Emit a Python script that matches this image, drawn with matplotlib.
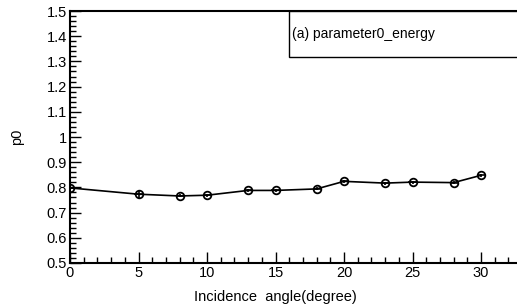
import numpy as np
import matplotlib
matplotlib.use('Agg')
import matplotlib.pyplot as plt
from matplotlib.ticker import MultipleLocator

# Data
angle = [0, 5, 8, 10, 13, 15, 18, 20, 23, 25, 28, 30]
p0 = [0.798, 0.773, 0.766, 0.769, 0.788, 0.788, 0.794, 0.824, 0.817, 0.821, 0.819, 0.848]
p0_err = [0.007, 0.014, 0.006, 0.006, 0.007, 0.006, 0.006, 0.006, 0.006, 0.006, 0.006, 0.005]
angle_err = [0.3] * len(angle)

plt.rcParams['font.family'] = ['Liberation Sans', 'DejaVu Sans']

fig = plt.figure(figsize=(5.17, 3.04), dpi=100)
ax = fig.add_axes([70 / 517, 41 / 304, 1.0 - 70 / 517 + 0.01, 252 / 304])

ax.plot(angle, p0, color='black', lw=1.2, zorder=2)
ax.errorbar(angle, p0, yerr=p0_err, xerr=angle_err, fmt='o', ms=5.5,
            mfc='none', mec='black', mew=1.3, ecolor='black', elinewidth=1.2,
            capsize=0, zorder=3)

ax.set_xlim(0, 33.0)
ax.set_ylim(0.5, 1.5)
ax.xaxis.set_major_locator(MultipleLocator(5))
ax.xaxis.set_minor_locator(MultipleLocator(1))
ax.yaxis.set_minor_locator(MultipleLocator(0.02))
ax.set_yticks(np.arange(0.5, 1.51, 0.1))
ax.set_yticklabels(['0.5', '0.6', '0.7', '0.8', '0.9', '1', '1.1', '1.2', '1.3', '1.4', '1.5'])

ax.tick_params(which='both', direction='in', width=1.0, labelsize=10.5,
               top=False, right=False)
ax.tick_params(which='major', length=8, pad=2)
ax.tick_params(which='minor', length=4)
for s in ['left', 'bottom', 'top']:
    ax.spines[s].set_linewidth(1.5)
ax.spines['right'].set_visible(False)

fig.text(17 / 517, 1 - 137 / 304, 'p0', rotation=90, ha='center', va='center', fontsize=10.5)
fig.text(275 / 517, 1 - 297 / 304, 'Incidence  angle(degree)', ha='center', va='center', fontsize=10.5)

# title box
fig.patches.append(plt.Rectangle((289 / 517, 1 - 57 / 304), 1.0, 46 / 304,
                                 transform=fig.transFigure, fill=True, fc='white',
                                 ec='black', lw=1.0, zorder=5))
fig.text(292 / 517, 1 - 34 / 304, '(a) parameter0_energy', ha='left', va='center',
         fontsize=10, zorder=6)

fig.savefig('out.png', dpi=100)
